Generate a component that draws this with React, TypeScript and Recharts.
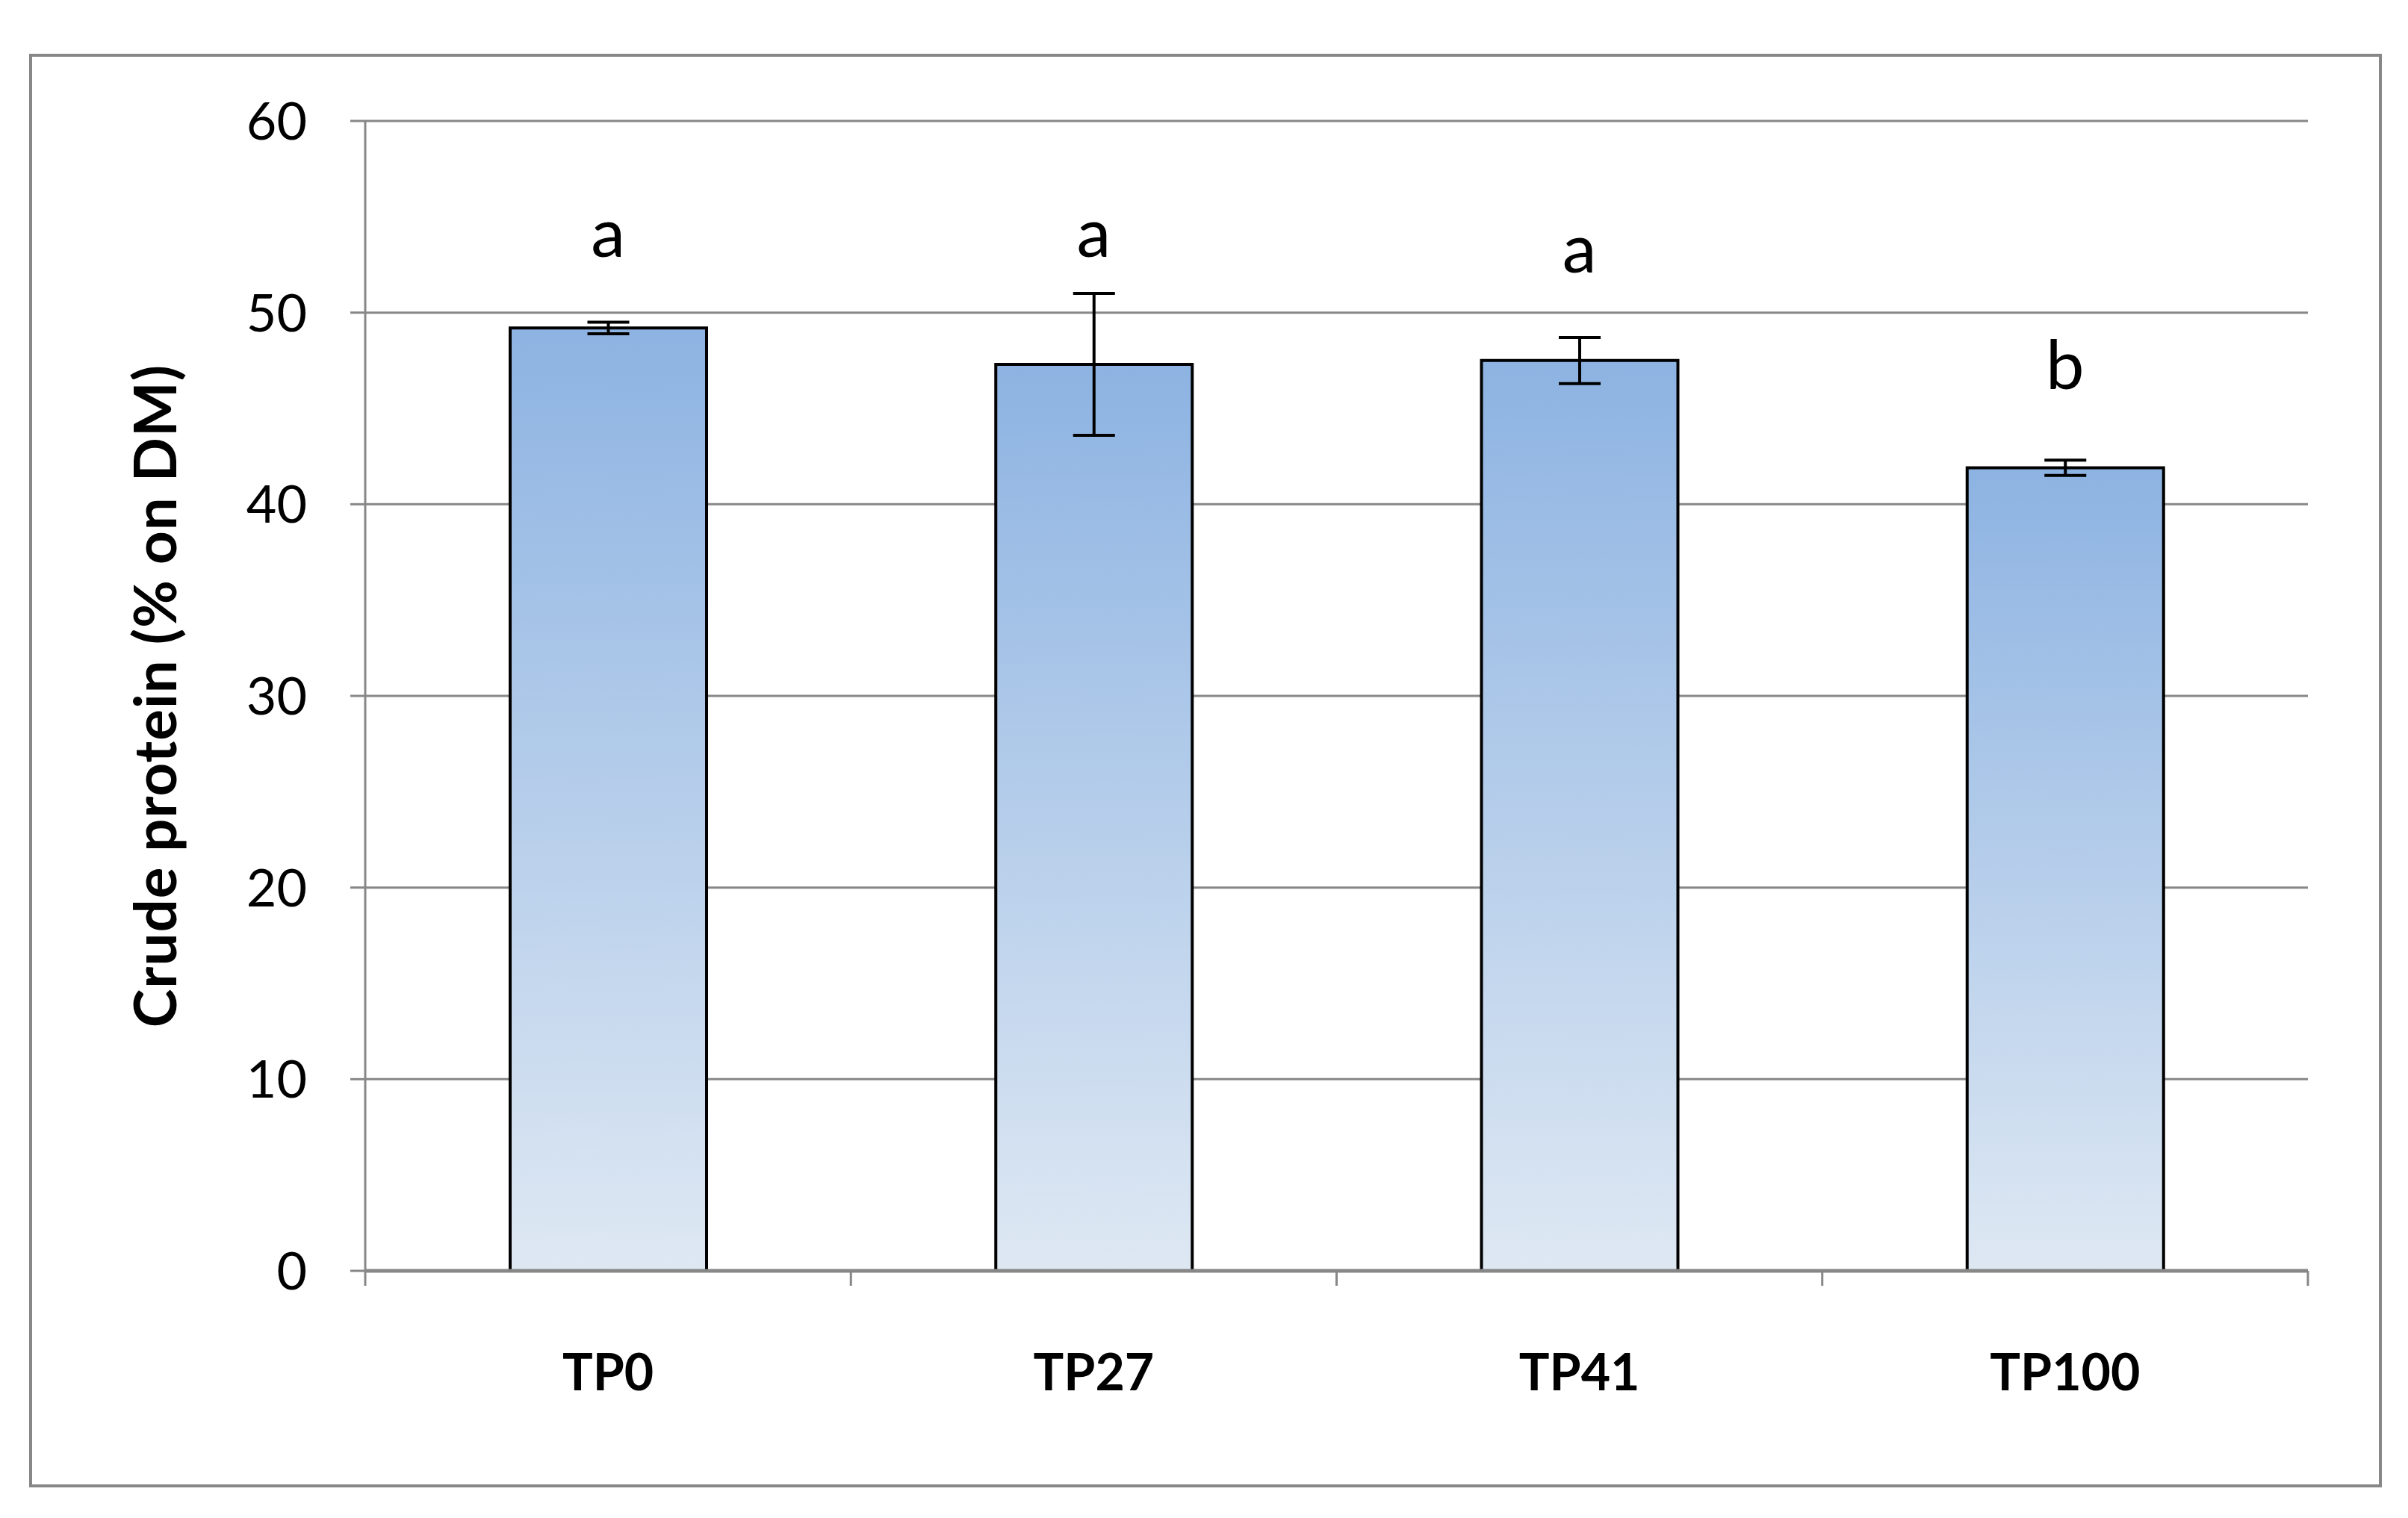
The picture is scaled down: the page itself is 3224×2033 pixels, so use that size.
import React from 'react';
import {
  ComposedChart,
  Bar,
  XAxis,
  YAxis,
  CartesianGrid,
  ErrorBar,
  Scatter,
  Label,
} from 'recharts';

const categories = ['TP0', 'TP27', 'TP41', 'TP100'];
const means = [49.2, 47.3, 47.5, 41.9];
const errors = [0.3, 3.7, 1.2, 0.4];
const letters = ['a', 'a', 'a', 'b'];
const letterBase = [52.9, 52.9, 52.1, 46.0];
const yTicks = [0, 10, 20, 30, 40, 50, 60];

const data = categories.map((name, i) => ({
  name,
  mean: means[i],
  err: errors[i],
  letter: letters[i],
  letterY: letterBase[i],
}));

const GRAY = '#878787';
const FONT = 'Lato, "Open Sans", sans-serif';
const X_TICK_MARGIN = 112;
const X_EDGE_TICK = 20;

const LetterShape = (props: any) => {
  const { cx, cy, payload } = props;
  if (cx == null || cy == null) return null;
  return (
    <text x={cx} y={cy} textAnchor="middle" fontSize={92} fontFamily={FONT} fill="#000">
      {payload.letter}
    </text>
  );
};

const XTick = (props: any) => {
  const { x, y, payload, index, visibleTicksCount } = props;
  const half = payload && payload.offset ? payload.offset : 0;
  const axisY = y - X_TICK_MARGIN;
  const isLast = index === (visibleTicksCount ?? categories.length) - 1;
  return (
    <g>
      <line
        x1={x - half}
        x2={x - half}
        y1={axisY}
        y2={axisY + X_EDGE_TICK}
        stroke={GRAY}
        strokeWidth={3}
      />
      {isLast && (
        <line
          x1={x + half}
          x2={x + half}
          y1={axisY}
          y2={axisY + X_EDGE_TICK}
          stroke={GRAY}
          strokeWidth={3}
        />
      )}
      <text
        x={x}
        y={y}
        dy="0.71em"
        textAnchor="middle"
        fontSize={68}
        fontWeight="bold"
        fontFamily={FONT}
        fill="#000"
      >
        {payload.value}
      </text>
    </g>
  );
};

const YTitle = (props: any) => {
  const vb = props.viewBox || { x: 0, y: 0, width: 0, height: 0 };
  const cx = 206;
  const cy = vb.y + vb.height / 2;
  return (
    <text
      x={cx}
      y={cy}
      transform={`rotate(-90, ${cx}, ${cy})`}
      textAnchor="middle"
      dominantBaseline="central"
      fontSize={78}
      fontWeight="bold"
      fontFamily={FONT}
      letterSpacing={1}
      fill="#000"
    >
      Crude protein (% on DM)
    </text>
  );
};

export default function App() {
  return (
    <div style={{ position: 'absolute', left: 0, top: 0, width: 3224, height: 2033, background: '#fff' }}>
      <div
        style={{
          position: 'absolute',
          left: 39,
          top: 72,
          width: 3150,
          height: 1920,
          border: `4px solid ${GRAY}`,
          boxSizing: 'border-box',
        }}
      />
      <div style={{ position: 'absolute', left: 0, top: 0 }}>
        <ComposedChart
          width={3224}
          height={2033}
          data={data}
          margin={{ top: 162, right: 134, bottom: 181, left: 289 }}
        >
          <defs>
            <linearGradient id="barGrad" x1="0" y1="0" x2="0" y2="1">
              <stop offset="0%" stopColor="#8DB3E2" />
              <stop offset="100%" stopColor="#DEE8F3" />
            </linearGradient>
          </defs>
          <CartesianGrid vertical={false} stroke={GRAY} strokeWidth={3} />
          <XAxis
            dataKey="name"
            axisLine={{ stroke: GRAY, strokeWidth: 5 }}
            tickLine={false}
            tickSize={0}
            tickMargin={X_TICK_MARGIN}
            height={150}
            interval={0}
            tick={<XTick />}
          />
          <YAxis
            domain={[0, 60]}
            ticks={yTicks}
            width={200}
            axisLine={{ stroke: GRAY, strokeWidth: 3 }}
            tickLine={{ stroke: GRAY, strokeWidth: 3 }}
            tickSize={20}
            tickMargin={58}
            tick={{ fontSize: 70, fontFamily: FONT, fill: '#000' }}
          >
            <Label content={<YTitle />} />
          </YAxis>
          <Bar
            dataKey="mean"
            fill="url(#barGrad)"
            stroke="#000"
            strokeWidth={4}
            barSize={263}
            isAnimationActive={false}
          >
            <ErrorBar dataKey="err" width={28} stroke="#000" strokeWidth={4} direction="y" />
          </Bar>
          <Scatter dataKey="letterY" shape={<LetterShape />} isAnimationActive={false} />
        </ComposedChart>
      </div>
    </div>
  );
}
